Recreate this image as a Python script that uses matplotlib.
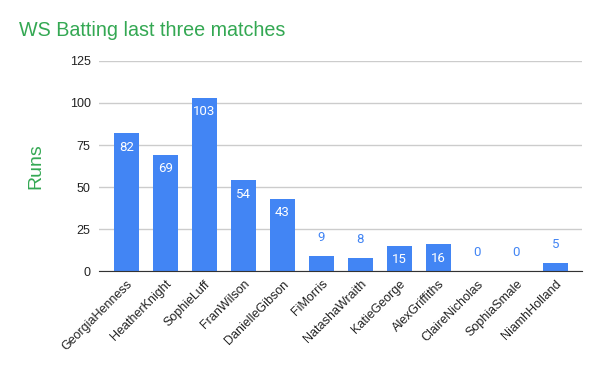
import matplotlib
matplotlib.use("Agg")
import matplotlib.pyplot as plt

players = ["GeorgiaHenness", "HeatherKnight", "SophieLuff", "FranWilson",
           "DanielleGibson", "FiMorris", "NatashaWraith", "KatieGeorge",
           "AlexGriffiths", "ClaireNicholas", "SophiaSmale", "NiamhHolland"]
runs = [82, 69, 103, 54, 43, 9, 8, 15, 16, 0, 0, 5]
yticks = [0, 25, 50, 75, 100, 125]

BLUE = "#4285F4"
GREEN = "#34A853"
plt.rcParams["font.family"] = ["Liberation Sans", "DejaVu Sans"]

fig = plt.figure(figsize=(6, 3.71), dpi=100)
ax = fig.add_axes([0.165, 0.2695, 0.805, 0.5661])

x = list(range(len(players)))
ax.bar(x, runs, width=0.64, color=BLUE, zorder=3)

# value labels: inside the bar when tall enough, above otherwise
for xi, v in zip(x, runs):
    if v >= 12:
        ax.annotate(str(v), (xi, v), xytext=(0, -10), textcoords="offset points",
                    ha="center", va="center", color="white", fontsize=9.5,
                    family="Roboto", zorder=4)
    else:
        ax.annotate(str(v), (xi, v), xytext=(0, 13), textcoords="offset points",
                    ha="center", va="center", color=BLUE, fontsize=9.5,
                    family="Roboto", zorder=4)

ax.set_xlim(-0.7, 11.68)
ax.set_ylim(0, 125)
ax.set_yticks(yticks)
ax.set_xticks(x)
ax.set_xticklabels(players, rotation=45, ha="right", rotation_mode="anchor",
                   fontsize=9, color="#222222")
ax.tick_params(axis="y", labelsize=9, labelcolor="#222222", length=0, pad=6)
ax.tick_params(axis="x", length=0, pad=5)
ax.grid(axis="y", color="#cccccc", linewidth=1, zorder=0)
for s in ["top", "right", "left"]:
    ax.spines[s].set_visible(False)
ax.spines["bottom"].set_color("#333333")
ax.spines["bottom"].set_zorder(5)

ax.set_ylabel("Runs", color=GREEN, fontsize=14, labelpad=18)
fig.text(0.032, 0.918, "WS Batting last three matches", color=GREEN,
         fontsize=14.2, ha="left", va="center")

fig.savefig("out.png", dpi=100)
